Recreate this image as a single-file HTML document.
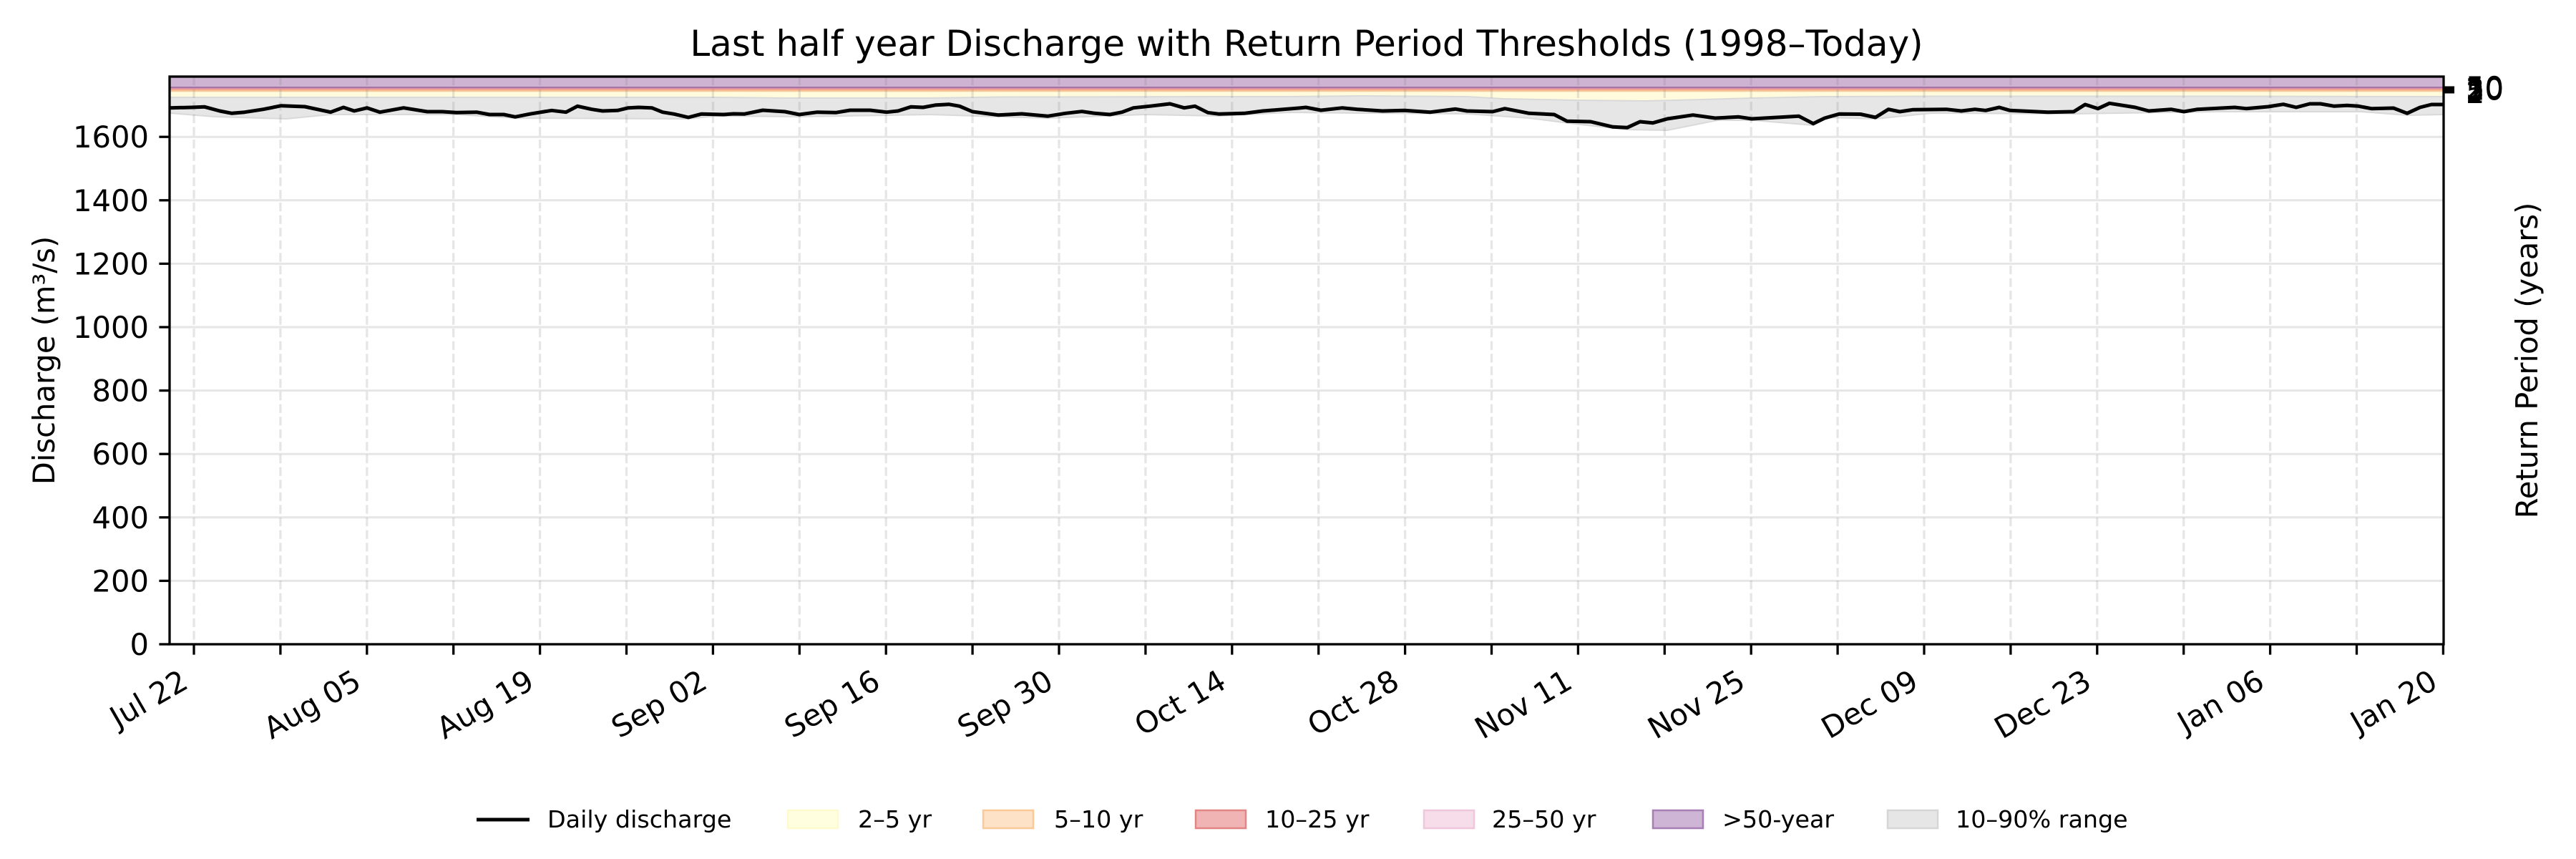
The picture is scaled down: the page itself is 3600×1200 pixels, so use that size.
<!DOCTYPE html>
<html>
<head>
<meta charset="utf-8">
<style>
html,body{margin:0;padding:0;background:#ffffff;}
svg{display:block;}
</style>
</head>
<body>
<svg width="3600" height="1200" viewBox="0 0 3600 1200" xmlns="http://www.w3.org/2000/svg" font-family="'DejaVu Sans','Liberation Sans',sans-serif">
<rect x="0" y="0" width="3600" height="1200" fill="#ffffff"/>

<!-- horizontal grid -->
<g stroke="#e6e6e6" stroke-width="3">
<line x1="237" y1="811.4" x2="3415" y2="811.4"/>
<line x1="237" y1="722.8" x2="3415" y2="722.8"/>
<line x1="237" y1="634.2" x2="3415" y2="634.2"/>
<line x1="237" y1="545.6" x2="3415" y2="545.6"/>
<line x1="237" y1="457" x2="3415" y2="457"/>
<line x1="237" y1="368.4" x2="3415" y2="368.4"/>
<line x1="237" y1="279.8" x2="3415" y2="279.8"/>
<line x1="237" y1="191.2" x2="3415" y2="191.2"/>
</g>

<!-- threshold bands -->
<rect x="237" y="107" width="3178" height="15" fill="#cfb3d3"/>
<rect x="237" y="127.5" width="3178" height="14" fill="#fffbdc"/>
<rect x="237" y="125" width="3178" height="3" fill="#f8bd8b"/>
<rect x="237" y="123.3" width="3178" height="2" fill="#e8959a"/>
<rect x="237" y="122" width="3178" height="1.6" fill="#c98fb4"/>
<line x1="237" y1="122" x2="3415" y2="122" stroke="#a674a4" stroke-width="2"/>
<line x1="237" y1="127.5" x2="3415" y2="127.5" stroke="#f5c9a0" stroke-width="1.5"/>

<!-- 10-90% band -->
<polygon fill="#e6e6e6" stroke="#d9d9d9" stroke-width="2" points="237,136 600,136 1000,136 1100,137 1300,137 1400,135.5 1800,135 1900,134 2050,135 2100,138 2200,140 2300,141 2380,139 2450,137 2550,135 2700,134.5 3100,134.5 3415,135 3415,160 3364,161 3300,156 3100,156 2900,159 2700,158 2621,166 2550,164 2534,175 2450,168 2400,168 2330,182 2274,181 2200,173 2137,165 2050,159 1900,158 1800,157 1704,162 1600,160 1464,165 1395,163 1300,160 1117,163 1000,162 962,166 720,165 640,160 462,160 400,166 300,163 237,158"/>

<!-- vertical dashed grid -->
<g stroke="rgba(128,128,128,0.2)" stroke-width="3.3" stroke-dasharray="12.3 5.3">
<line x1="271" y1="107" x2="271" y2="900"/>
<line x1="391.9" y1="107" x2="391.9" y2="900"/>
<line x1="512.8" y1="107" x2="512.8" y2="900"/>
<line x1="633.7" y1="107" x2="633.7" y2="900"/>
<line x1="754.6" y1="107" x2="754.6" y2="900"/>
<line x1="875.5" y1="107" x2="875.5" y2="900"/>
<line x1="996.4" y1="107" x2="996.4" y2="900"/>
<line x1="1117.3" y1="107" x2="1117.3" y2="900"/>
<line x1="1238.2" y1="107" x2="1238.2" y2="900"/>
<line x1="1359.1" y1="107" x2="1359.1" y2="900"/>
<line x1="1480" y1="107" x2="1480" y2="900"/>
<line x1="1600.9" y1="107" x2="1600.9" y2="900"/>
<line x1="1721.8" y1="107" x2="1721.8" y2="900"/>
<line x1="1842.7" y1="107" x2="1842.7" y2="900"/>
<line x1="1963.6" y1="107" x2="1963.6" y2="900"/>
<line x1="2084.5" y1="107" x2="2084.5" y2="900"/>
<line x1="2205.4" y1="107" x2="2205.4" y2="900"/>
<line x1="2326.3" y1="107" x2="2326.3" y2="900"/>
<line x1="2447.2" y1="107" x2="2447.2" y2="900"/>
<line x1="2568.1" y1="107" x2="2568.1" y2="900"/>
<line x1="2689" y1="107" x2="2689" y2="900"/>
<line x1="2809.9" y1="107" x2="2809.9" y2="900"/>
<line x1="2930.8" y1="107" x2="2930.8" y2="900"/>
<line x1="3051.7" y1="107" x2="3051.7" y2="900"/>
<line x1="3172.6" y1="107" x2="3172.6" y2="900"/>
<line x1="3293.5" y1="107" x2="3293.5" y2="900"/>
</g>

<!-- discharge line -->
<polyline fill="none" stroke="#000000" stroke-width="5" stroke-linejoin="round" points="237,150.7 268,150 286,149.3 307,155 324,158.3 342,156.7 368,152.7 393,147.7 426,149 462,156.7 480,150 495,155 513,150.7 531,156.7 564,150.7 597,156 618,156 638,157.3 666,156.7 684,160 704,160 720,163.3 740,159.3 771,154.3 791,156.7 807,148.3 827,152.7 842,155 863,154.3 878,150.7 893,150 911,150.7 926,156.7 942,159.3 962,164 980,159.3 1011,160 1025,159 1040,159.3 1066,154 1097,156 1117,160 1142,156.7 1168,157.3 1188,154 1216,154 1239,156.7 1255,155 1273,149.3 1290,150 1308,146.7 1326,145.7 1341,148.3 1359,156 1395,160.7 1428,159 1464,162.3 1489,158.3 1512,155.7 1530,158.3 1551,160 1568,156.7 1584,150.7 1607,148.3 1635,145 1655,150.7 1670,148.3 1688,157.3 1704,159.3 1739,158.3 1765,155 1815,151 1825,150 1846,154 1876,150.7 1897,152.7 1932,155 1963,154.3 1999,156.7 2034,152.3 2050,155 2086,156 2103,151.7 2137,158.3 2172,160 2190,169.3 2223,170 2254,177.3 2274,178.3 2292,170 2310,171.7 2330,166 2366,160.7 2397,165 2430,163.3 2448,166 2514,162.3 2534,172.7 2550,165 2570,159.3 2600,159.5 2621,164 2639,152.7 2655,156 2673,153.3 2720,152.7 2741,155 2760,152.7 2775,154.3 2794,150 2809,154.3 2862,156.7 2898,156 2914,146 2932,151.7 2948,144.3 2984,150 3003,155 3034,152.7 3052,156 3071,152.7 3123,150 3139,151.7 3170,149 3191,145.7 3209,150 3228,145 3243,145 3262,148.3 3280,147.3 3296,148.3 3314,151.7 3345,151 3364,158.3 3382,150 3398,146 3415,146"/>

<!-- spines -->
<rect x="237" y="107" width="3178" height="793" fill="none" stroke="#000000" stroke-width="3.3"/>

<!-- y ticks -->
<g stroke="#000000" stroke-width="3.3">
<line x1="222.4" y1="900" x2="237" y2="900"/>
<line x1="222.4" y1="811.4" x2="237" y2="811.4"/>
<line x1="222.4" y1="722.8" x2="237" y2="722.8"/>
<line x1="222.4" y1="634.2" x2="237" y2="634.2"/>
<line x1="222.4" y1="545.6" x2="237" y2="545.6"/>
<line x1="222.4" y1="457" x2="237" y2="457"/>
<line x1="222.4" y1="368.4" x2="237" y2="368.4"/>
<line x1="222.4" y1="279.8" x2="237" y2="279.8"/>
<line x1="222.4" y1="191.2" x2="237" y2="191.2"/>
</g>
<g font-size="41.67" fill="#000000" text-anchor="end">
<text x="208" y="915">0</text>
<text x="208" y="826.4">200</text>
<text x="208" y="737.8">400</text>
<text x="208" y="649.2">600</text>
<text x="208" y="560.6">800</text>
<text x="208" y="472">1000</text>
<text x="208" y="383.4">1200</text>
<text x="208" y="294.8">1400</text>
<text x="208" y="206.2">1600</text>
</g>

<!-- right ticks -->
<g stroke="#000000" stroke-width="3">
<line x1="3415" y1="122" x2="3430" y2="122"/>
<line x1="3415" y1="123.3" x2="3430" y2="123.3"/>
<line x1="3415" y1="124.5" x2="3430" y2="124.5"/>
<line x1="3415" y1="127.5" x2="3430" y2="127.5"/>
<line x1="3415" y1="129" x2="3430" y2="129"/>
</g>
<g font-size="41.67" fill="#000000">
<text x="3446" y="144">2</text>
<text x="3446" y="142.5">5</text>
<text x="3446" y="139.5">10</text>
<text x="3446" y="138.3">20</text>
<text x="3446" y="137">50</text>
</g>

<!-- x ticks -->
<g stroke="#000000" stroke-width="3.3">
<line x1="271" y1="900" x2="271" y2="914.6"/>
<line x1="391.9" y1="900" x2="391.9" y2="914.6"/>
<line x1="512.8" y1="900" x2="512.8" y2="914.6"/>
<line x1="633.7" y1="900" x2="633.7" y2="914.6"/>
<line x1="754.6" y1="900" x2="754.6" y2="914.6"/>
<line x1="875.5" y1="900" x2="875.5" y2="914.6"/>
<line x1="996.4" y1="900" x2="996.4" y2="914.6"/>
<line x1="1117.3" y1="900" x2="1117.3" y2="914.6"/>
<line x1="1238.2" y1="900" x2="1238.2" y2="914.6"/>
<line x1="1359.1" y1="900" x2="1359.1" y2="914.6"/>
<line x1="1480" y1="900" x2="1480" y2="914.6"/>
<line x1="1600.9" y1="900" x2="1600.9" y2="914.6"/>
<line x1="1721.8" y1="900" x2="1721.8" y2="914.6"/>
<line x1="1842.7" y1="900" x2="1842.7" y2="914.6"/>
<line x1="1963.6" y1="900" x2="1963.6" y2="914.6"/>
<line x1="2084.5" y1="900" x2="2084.5" y2="914.6"/>
<line x1="2205.4" y1="900" x2="2205.4" y2="914.6"/>
<line x1="2326.3" y1="900" x2="2326.3" y2="914.6"/>
<line x1="2447.2" y1="900" x2="2447.2" y2="914.6"/>
<line x1="2568.1" y1="900" x2="2568.1" y2="914.6"/>
<line x1="2689" y1="900" x2="2689" y2="914.6"/>
<line x1="2809.9" y1="900" x2="2809.9" y2="914.6"/>
<line x1="2930.8" y1="900" x2="2930.8" y2="914.6"/>
<line x1="3051.7" y1="900" x2="3051.7" y2="914.6"/>
<line x1="3172.6" y1="900" x2="3172.6" y2="914.6"/>
<line x1="3293.5" y1="900" x2="3293.5" y2="914.6"/>
<line x1="3414.4" y1="900" x2="3414.4" y2="914.6"/>
</g>
<g font-size="41.67" fill="#000000" text-anchor="end">
<text transform="translate(249,931) rotate(-30)" y="33">Jul 22</text>
<text transform="translate(490.8,931) rotate(-30)" y="33">Aug 05</text>
<text transform="translate(732.6,931) rotate(-30)" y="33">Aug 19</text>
<text transform="translate(974.4,931) rotate(-30)" y="33">Sep 02</text>
<text transform="translate(1216.2,931) rotate(-30)" y="33">Sep 16</text>
<text transform="translate(1458,931) rotate(-30)" y="33">Sep 30</text>
<text transform="translate(1699.8,931) rotate(-30)" y="33">Oct 14</text>
<text transform="translate(1941.6,931) rotate(-30)" y="33">Oct 28</text>
<text transform="translate(2183.4,931) rotate(-30)" y="33">Nov 11</text>
<text transform="translate(2425.2,931) rotate(-30)" y="33">Nov 25</text>
<text transform="translate(2667,931) rotate(-30)" y="33">Dec 09</text>
<text transform="translate(2908.8,931) rotate(-30)" y="33">Dec 23</text>
<text transform="translate(3150.6,931) rotate(-30)" y="33">Jan 06</text>
<text transform="translate(3392.4,931) rotate(-30)" y="33">Jan 20</text>
</g>

<!-- axis labels -->
<text transform="translate(76,503.5) rotate(-90)" text-anchor="middle" font-size="41.67" fill="#000000">Discharge (m³/s)</text>
<text transform="translate(3546,503.5) rotate(-90)" text-anchor="middle" font-size="41.67" fill="#000000">Return Period (years)</text>

<!-- title -->
<text x="1826" y="78" text-anchor="middle" font-size="50" fill="#000000">Last half year Discharge with Return Period Thresholds (1998–Today)</text>

<!-- legend -->
<g font-size="33.33" fill="#000000">
<line x1="666" y1="1145" x2="740" y2="1145" stroke="#000000" stroke-width="5"/>
<text x="765" y="1156">Daily discharge</text>

<rect x="1101" y="1132" width="70" height="25" fill="#ffffe0" stroke="#fffacd" stroke-width="2.5"/>
<text x="1199" y="1156">2–5 yr</text>

<rect x="1374" y="1132" width="70" height="25" fill="#fde2c8" stroke="#fbc898" stroke-width="2.5"/>
<text x="1473" y="1156">5–10 yr</text>

<rect x="1671" y="1132" width="70" height="25" fill="#f0b4b4" stroke="#e38585" stroke-width="2.5"/>
<text x="1768" y="1156">10–25 yr</text>

<rect x="1990" y="1132" width="70" height="25" fill="#f6dde9" stroke="#efc6da" stroke-width="2.5"/>
<text x="2085" y="1156">25–50 yr</text>

<rect x="2310" y="1132" width="70" height="25" fill="#ceb4d5" stroke="#a87fb5" stroke-width="2.5"/>
<text x="2407" y="1156">&gt;50-year</text>

<rect x="2638" y="1132" width="70" height="25" fill="#e6e6e6" stroke="#d6d6d6" stroke-width="2.5"/>
<text x="2733" y="1156">10–90% range</text>
</g>
</svg>
</body>
</html>
